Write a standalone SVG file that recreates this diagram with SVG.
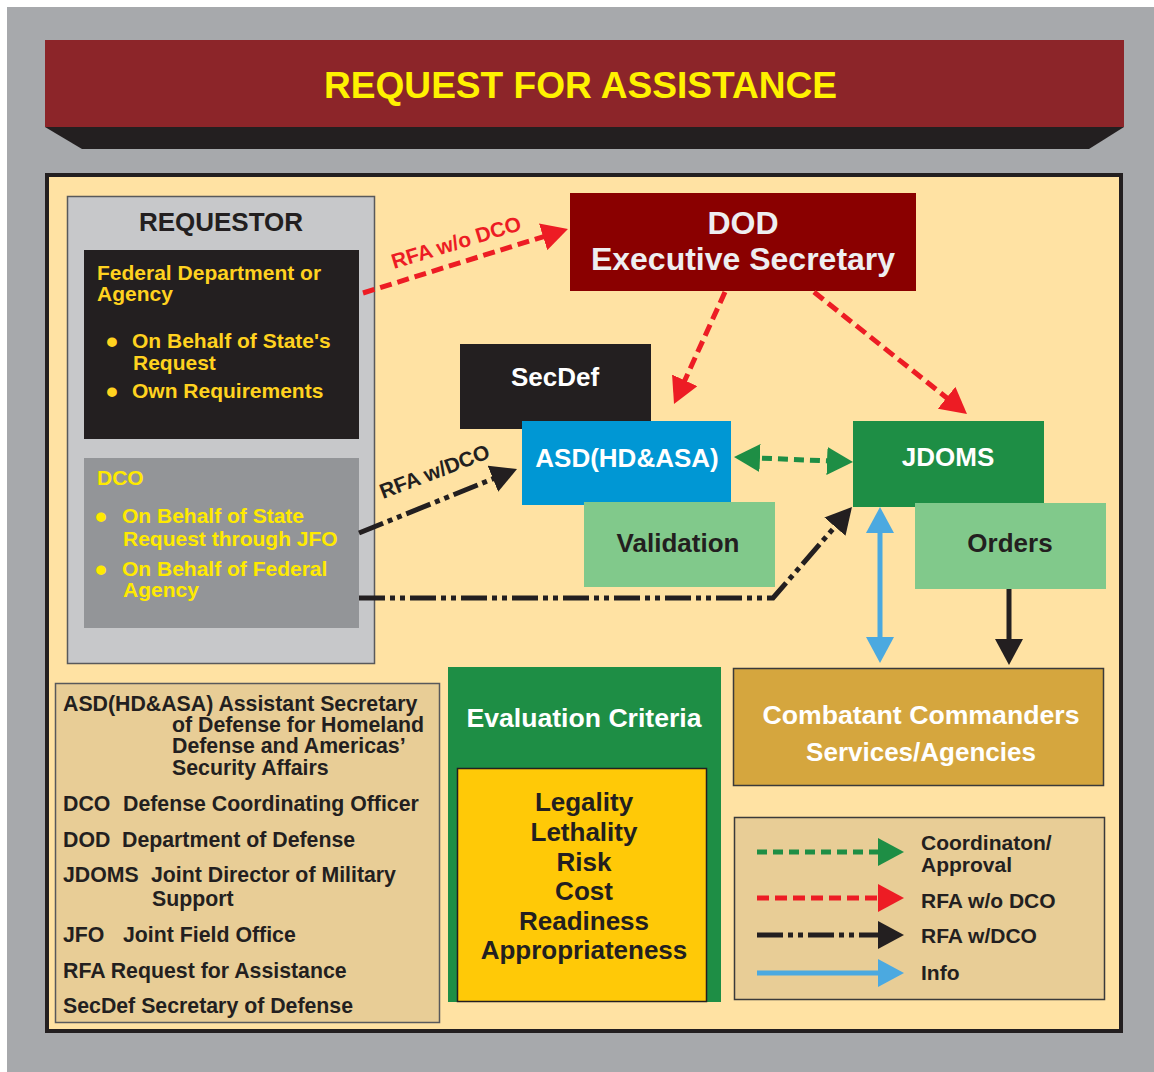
<svg xmlns="http://www.w3.org/2000/svg" width="1154" height="1072" viewBox="0 0 1154 1072">
<defs>
<style>
text{font-family:"Liberation Sans",Arial,sans-serif;font-weight:bold;}
.dk{fill:#231F20;}
.wh{fill:#FFFFFF;}
.yl{fill:#FFD21F;}
.yl2{fill:#FFEA00;}
.ab{font-size:21.3px;fill:#231F20;}
.lg{font-size:21px;fill:#231F20;}
.cr{font-size:26px;fill:#231F20;text-anchor:middle;}
.red{fill:none;stroke:#ED1C24;stroke-width:5;stroke-dasharray:12 6;}
.grn{fill:none;stroke:#1E8E45;stroke-width:5;stroke-dasharray:10 6;}
.blk{fill:none;stroke:#231F20;stroke-width:5;stroke-dasharray:26 5 5 5 5 5;}
.blu{fill:none;stroke:#4BA9E0;stroke-width:5;}
.sol{fill:none;stroke:#231F20;stroke-width:5;}
</style>
<marker id="mR" markerUnits="userSpaceOnUse" markerWidth="26" markerHeight="28" viewBox="0 0 26 28" refX="14" refY="14" orient="auto-start-reverse"><path d="M0,0 L26,14 L0,28 Z" fill="#ED1C24"/></marker>
<marker id="mG" markerUnits="userSpaceOnUse" markerWidth="26" markerHeight="28" viewBox="0 0 26 28" refX="14" refY="14" orient="auto-start-reverse"><path d="M0,0 L26,14 L0,28 Z" fill="#1E8E45"/></marker>
<marker id="mK" markerUnits="userSpaceOnUse" markerWidth="26" markerHeight="28" viewBox="0 0 26 28" refX="14" refY="14" orient="auto-start-reverse"><path d="M0,0 L26,14 L0,28 Z" fill="#231F20"/></marker>
<marker id="mB" markerUnits="userSpaceOnUse" markerWidth="26" markerHeight="28" viewBox="0 0 26 28" refX="14" refY="14" orient="auto-start-reverse"><path d="M0,0 L26,14 L0,28 Z" fill="#4BA9E0"/></marker>
</defs>

<rect x="7" y="7" width="1147" height="1065" fill="#A7A9AC"/>

<g id="title">
<polygon points="45,127 1124,127 1089,149 82,149" fill="#231F20"/>
<rect x="45" y="40" width="1079" height="87" fill="#8C2529"/>
<text x="324" y="98" font-size="36" fill="#FFF200" textLength="513" lengthAdjust="spacingAndGlyphs">REQUEST FOR ASSISTANCE</text>
</g>

<rect id="panel" x="47" y="175" width="1074" height="856" fill="#FFE2A3" stroke="#231F20" stroke-width="4"/>

<g id="requestor">
<rect x="67.5" y="196.5" width="307" height="467" fill="#C7C8CA" stroke="#58595B" stroke-width="1.5"/>
<text x="221" y="231" font-size="26" class="dk" text-anchor="middle">REQUESTOR</text>
</g>

<g id="federal">
<rect x="84" y="250" width="275" height="189" fill="#231F20"/>
<text class="yl" font-size="21"><tspan x="97" y="280">Federal Department or</tspan><tspan x="97" y="301">Agency</tspan></text>
<text class="yl" font-size="34" x="106" y="353">•</text>
<text class="yl" font-size="21"><tspan x="132" y="348">On Behalf of State's</tspan><tspan x="133" y="370">Request</tspan></text>
<text class="yl" font-size="34" x="106" y="403">•</text>
<text class="yl" font-size="21" x="132" y="398">Own Requirements</text>
</g>

<g id="dco">
<rect x="84" y="458" width="275" height="170" fill="#939598"/>
<text class="yl2" font-size="21" x="97" y="485">DCO</text>
<text class="yl2" font-size="34" x="95" y="528">•</text>
<text class="yl2" font-size="21"><tspan x="122" y="523">On Behalf of State</tspan><tspan x="123" y="546">Request through JFO</tspan></text>
<text class="yl2" font-size="34" x="95" y="581">•</text>
<text class="yl2" font-size="21"><tspan x="122" y="576">On Behalf of Federal</tspan><tspan x="123" y="597">Agency</tspan></text>
</g>

<g id="dod">
<rect x="570" y="193" width="346" height="98" fill="#8A0000"/>
<text font-size="32" fill="#EEEEF0" text-anchor="middle"><tspan x="743" y="234">DOD</tspan><tspan x="743" y="270">Executive Secretary</tspan></text>
</g>

<g id="secdef">
<rect x="460" y="344" width="191" height="85" fill="#231F20"/>
<text x="555" y="386" font-size="26" class="wh" text-anchor="middle">SecDef</text>
</g>

<g id="asd">
<rect x="522" y="421" width="209" height="84" fill="#0097D4"/>
<text x="627" y="467" font-size="26" class="wh" text-anchor="middle">ASD(HD&amp;ASA)</text>
</g>

<g id="validation">
<rect x="584" y="502" width="191" height="85" fill="#81C98B"/>
<text x="678" y="552" font-size="26" class="dk" text-anchor="middle">Validation</text>
</g>

<g id="jdoms">
<rect x="853" y="421" width="191" height="86" fill="#1E8E45"/>
<text x="948" y="466" font-size="26" class="wh" text-anchor="middle">JDOMS</text>
</g>

<g id="orders">
<rect x="915" y="503" width="191" height="86" fill="#81C98B"/>
<text x="1010" y="552" font-size="26" class="dk" text-anchor="middle">Orders</text>
</g>

<g id="abbreviations">
<rect x="55.5" y="683.5" width="384" height="339" fill="#E8CD96" stroke="#58595B" stroke-width="1.5"/>
<text class="ab"><tspan x="63" y="711">ASD(HD&amp;ASA) Assistant Secretary</tspan><tspan x="172" y="732">of Defense for Homeland</tspan><tspan x="172" y="753">Defense and Americas’</tspan><tspan x="172" y="775">Security Affairs</tspan></text>
<text class="ab" y="811"><tspan x="63">DCO</tspan><tspan x="123">Defense Coordinating Officer</tspan></text>
<text class="ab" y="847"><tspan x="63">DOD</tspan><tspan x="122">Department of Defense</tspan></text>
<text class="ab"><tspan x="63" y="882">JDOMS</tspan><tspan x="151" y="882">Joint Director of Military</tspan><tspan x="152" y="906">Support</tspan></text>
<text class="ab" y="942"><tspan x="63">JFO</tspan><tspan x="123">Joint Field Office</tspan></text>
<text class="ab" x="63" y="978">RFA Request for Assistance</text>
<text class="ab" x="63" y="1013">SecDef Secretary of Defense</text>
</g>

<g id="evaluation">
<rect x="448" y="667" width="273" height="335" fill="#1E8E45"/>
<text x="584" y="727" font-size="26" class="wh" text-anchor="middle" textLength="235" lengthAdjust="spacingAndGlyphs">Evaluation Criteria</text>
<rect x="457.5" y="768.5" width="249" height="233" fill="#FFC907" stroke="#231F20" stroke-width="1.5"/>
<text class="cr"><tspan x="584" y="811">Legality</tspan><tspan x="584" y="841">Lethality</tspan><tspan x="584" y="871">Risk</tspan><tspan x="584" y="900">Cost</tspan><tspan x="584" y="930">Readiness</tspan><tspan x="584" y="959">Appropriateness</tspan></text>
</g>

<g id="combatant">
<rect x="733.5" y="668.5" width="370" height="117" fill="#D5A63E" stroke="#3A3A3A" stroke-width="1.5"/>
<text x="921" y="724" font-size="26" class="wh" text-anchor="middle" textLength="317" lengthAdjust="spacingAndGlyphs">Combatant Commanders</text>
<text x="921" y="761" font-size="26" class="wh" text-anchor="middle">Services/Agencies</text>
</g>

<g id="legend">
<rect x="734.5" y="817.5" width="370" height="182" fill="#E8CD96" stroke="#3A3A3A" stroke-width="1.5"/>
<path class="grn" d="M757,852 H892" marker-end="url(#mG)"/>
<path class="red" d="M757,898 H892" marker-end="url(#mR)"/>
<path class="blk" d="M757,935 H892" marker-end="url(#mK)"/>
<path class="blu" d="M757,973 H892" marker-end="url(#mB)"/>
<text class="lg"><tspan x="921" y="850">Coordinaton/</tspan><tspan x="921" y="872">Approval</tspan></text>
<text class="lg" x="921" y="908">RFA w/o DCO</text>
<text class="lg" x="921" y="943">RFA w/DCO</text>
<text class="lg" x="921" y="980">Info</text>
</g>

<g id="connectors">
<path class="red" d="M363,293 L556.5,232.6" marker-end="url(#mR)"/>
<text transform="translate(394,269) rotate(-17)" font-size="21" fill="#ED1C24">RFA w/o DCO</text>
<path class="red" d="M725,292 L679,393.1" marker-end="url(#mR)"/>
<path class="red" d="M814,292 L957.6,406.5" marker-end="url(#mR)"/>
<path class="grn" d="M746,457.5 L841,461.5" marker-start="url(#mG)" marker-end="url(#mG)"/>
<path class="blk" d="M359,533 L505.9,473.5" marker-end="url(#mK)"/>
<text transform="translate(383,499) rotate(-21)" font-size="21" fill="#231F20">RFA w/DCO</text>
<path class="blk" d="M359,598 H773 L844.1,516.1" marker-end="url(#mK)"/>
<path class="blu" d="M880,519 V651" marker-start="url(#mB)" marker-end="url(#mB)"/>
<path class="sol" d="M1009,589 V653" marker-end="url(#mK)"/>
</g>
</svg>
